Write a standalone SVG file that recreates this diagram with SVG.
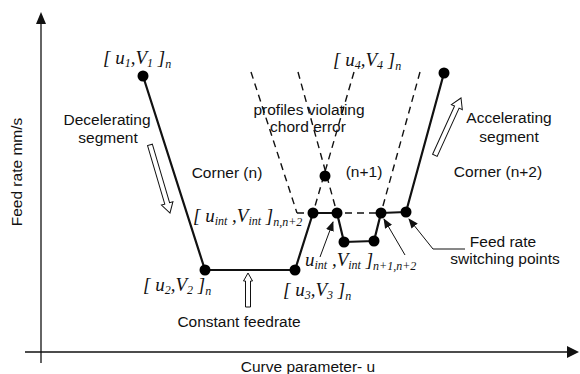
<svg xmlns="http://www.w3.org/2000/svg" width="580" height="374" viewBox="0 0 580 374">
<style>
.t{font-family:"Liberation Sans",Arial,sans-serif;font-size:15.5px;fill:#111}
.m{font-family:"Liberation Serif","Times New Roman",serif;font-style:italic;font-size:19px;fill:#111}
.s{font-size:12px}
.solid{fill:none;stroke:#111;stroke-width:2.2;stroke-linejoin:round}
.dash{fill:none;stroke:#111;stroke-width:1.4;stroke-dasharray:7,5}
.thin{fill:none;stroke:#111;stroke-width:1}
.hollow{fill:#fff;stroke:#111;stroke-width:1}
.dot{fill:#000}
</style>
<defs>
<marker id="ah" viewBox="0 0 10 10" refX="9" refY="5" markerWidth="10" markerHeight="10" markerUnits="userSpaceOnUse" orient="auto">
<path d="M0,1 L10,5 L0,9 z" fill="#111"/>
</marker>
</defs>
<rect width="580" height="374" fill="#fff"/>
<g id="axes">
<line x1="41" y1="363" x2="41" y2="22" stroke="#111" stroke-width="1.3"/>
<path d="M41,12 L46,24 L36,24 z" fill="#111"/>
<line x1="25" y1="352" x2="568" y2="352" stroke="#111" stroke-width="1.3"/>
<path d="M579,352 L567,346 L567,358 z" fill="#111"/>
<text class="t" transform="translate(22,172) rotate(-90)" text-anchor="middle" font-size="17">Feed rate mm/s</text>
<text class="t" x="308" y="372" text-anchor="middle">Curve parameter- u</text>
</g>
<g id="connectors">
<line class="dash" x1="251" y1="72" x2="297" y2="213"/>
<line class="dash" x1="298" y1="72" x2="337" y2="213"/>
<line class="dash" x1="354" y1="72" x2="313" y2="213"/>
<line class="dash" x1="420" y1="72" x2="381" y2="213"/>
<line class="dash" x1="297" y1="213" x2="381" y2="213"/>
<polyline class="solid" points="143,76 205,270 295,270 313,213 337,213 344,242 374,241 381,213 406,212 444,73"/>
<line class="thin" x1="320" y1="257" x2="333" y2="222" marker-end="url(#ah)"/>
<line class="thin" x1="405" y1="255" x2="384" y2="219" marker-end="url(#ah)"/>
<polyline class="thin" points="465,249 433,249 409,219" marker-end="url(#ah)"/>
<path class="hollow" transform="translate(170,213) rotate(73.6)" d="M-71,-2.5 L-10,-2.5 L-10,-6 L0,0 L-10,6 L-10,2.5 L-71,2.5 z"/>
<path class="hollow" transform="translate(461,98) rotate(-65.5)" d="M-63,-2.5 L-10,-2.5 L-10,-6 L0,0 L-10,6 L-10,2.5 L-63,2.5 z"/>
<path class="hollow" transform="translate(248,273) rotate(-90)" d="M-34,-2.5 L-8,-2.5 L-8,-4.5 L0,0 L-8,4.5 L-8,2.5 L-34,2.5 z"/>
</g>
<g id="p1"><circle class="dot" cx="143" cy="76" r="5.5"/><text class="m" x="103" y="64">[ u<tspan class="s" dy="3">1</tspan><tspan dy="-3">,V</tspan><tspan class="s" dy="3">1</tspan><tspan dy="-3"> ]</tspan><tspan class="s" dy="4">n</tspan></text></g>
<g id="p2"><circle class="dot" cx="205" cy="270" r="5.5"/><text class="m" x="143" y="291">[ u<tspan class="s" dy="3">2</tspan><tspan dy="-3">,V</tspan><tspan class="s" dy="3">2</tspan><tspan dy="-3"> ]</tspan><tspan class="s" dy="4">n</tspan></text></g>
<g id="p3"><circle class="dot" cx="295" cy="270" r="5.5"/><text class="m" x="283" y="296">[ u<tspan class="s" dy="3">3</tspan><tspan dy="-3">,V</tspan><tspan class="s" dy="3">3</tspan><tspan dy="-3"> ]</tspan><tspan class="s" dy="4">n</tspan></text></g>
<g id="p4"><circle class="dot" cx="444" cy="73" r="5.5"/><text class="m" x="333" y="66">[ u<tspan class="s" dy="3">4</tspan><tspan dy="-3">,V</tspan><tspan class="s" dy="3">4</tspan><tspan dy="-3"> ]</tspan><tspan class="s" dy="4">n</tspan></text></g>
<g id="peak"><circle class="dot" cx="325" cy="176" r="5.5"/></g>
<g id="int1"><circle class="dot" cx="313" cy="213" r="5.5"/><text class="m" x="193" y="222">[ u<tspan class="s" dy="3">int</tspan><tspan dy="-3"> ,V</tspan><tspan class="s" dy="3">int</tspan><tspan dy="-3"> ]</tspan><tspan class="s" dy="4">n,n+2</tspan></text></g>
<g id="int2"><circle class="dot" cx="337" cy="213" r="5.5"/></g>
<g id="low1"><circle class="dot" cx="344" cy="242" r="5.5"/></g>
<g id="low2"><circle class="dot" cx="374" cy="241" r="5.5"/></g>
<g id="int3"><circle class="dot" cx="381" cy="213" r="5.5"/><text class="m" x="305" y="266">u<tspan class="s" dy="3">int</tspan><tspan dy="-3"> ,V</tspan><tspan class="s" dy="3">int</tspan><tspan dy="-3"> ]</tspan><tspan class="s" dy="4">n+1,n+2</tspan></text></g>
<g id="int4"><circle class="dot" cx="406" cy="212" r="5.5"/></g>
<g id="labels">
<text class="t" x="309" y="115" text-anchor="middle">profiles violating</text>
<text class="t" x="308" y="132" text-anchor="middle">chord error</text>
<text class="t" x="107" y="125" text-anchor="middle">Decelerating</text>
<text class="t" x="108" y="143" text-anchor="middle">segment</text>
<text class="t" x="227" y="178" text-anchor="middle">Corner (n)</text>
<text class="t" x="364" y="177" text-anchor="middle">(n+1)</text>
<text class="t" x="498" y="177" text-anchor="middle">Corner (n+2)</text>
<text class="t" x="509" y="123" text-anchor="middle">Accelerating</text>
<text class="t" x="509" y="142" text-anchor="middle">segment</text>
<text class="t" x="239" y="327" text-anchor="middle">Constant feedrate</text>
<text class="t" x="503" y="247" text-anchor="middle">Feed rate</text>
<text class="t" x="505" y="264" text-anchor="middle">switching points</text>
</g>
</svg>
